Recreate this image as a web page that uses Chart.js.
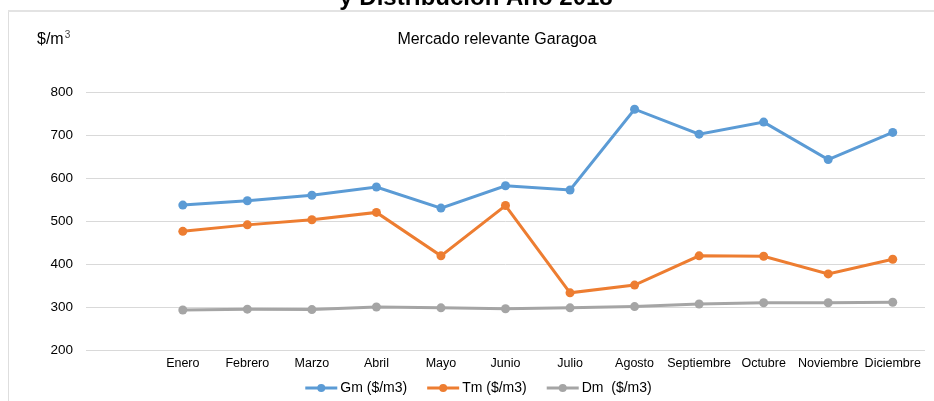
<!DOCTYPE html>
<html>
<head>
<meta charset="utf-8">
<script src="https://cdn.jsdelivr.net/npm/chart.js@4/dist/chart.umd.min.js"></script>
<style>
html,body{margin:0;padding:0;background:#fff;}
#wrap{width:934px;height:401px;position:relative;}
</style>
</head>
<body>
<div id="wrap"><canvas id="c" width="934" height="401"></canvas></div>
<script>
const categories = ['', 'Enero', 'Febrero', 'Marzo', 'Abril', 'Mayo', 'Junio', 'Julio', 'Agosto', 'Septiembre', 'Octubre', 'Noviembre', 'Diciembre'];
const gmValues = [null, 537, 547, 560, 579, 530, 582, 572, 760, 702, 730, 643, 706];
const tmValues = [null, 476, 491, 503, 520, 419, 536, 333, 351, 419, 418, 377, 411];
const dmValues = [null, 293, 295, 294, 300, 298, 296, 298, 301, 307, 310, 310, 311];
const seriesNames = ['Gm ($/m3)', 'Tm ($/m3)', 'Dm  ($/m3)'];
const yTicks = [200, 300, 400, 500, 600, 700, 800];
const titleText = 'y Distribución Año 2018';
const subtitleText = 'Mercado relevante Garagoa';
const unitText = '$/m';
const unitSup = '3';

const FONT = '"Liberation Sans", Arial, sans-serif';
const colors = ['#5B9BD5', '#ED7D31', '#A5A5A5'];

const decor = {
  id: 'decor',
  beforeDraw(chart) {
    const ctx = chart.ctx;
    ctx.save();
    ctx.fillStyle = '#fff';
    ctx.fillRect(0, 0, chart.width, chart.height);
    ctx.strokeStyle = '#dedede';
    ctx.lineWidth = 1;
    ctx.beginPath();
    ctx.moveTo(8.5, chart.height);
    ctx.lineTo(8.5, 11);
    ctx.stroke();
    ctx.lineWidth = 2;
    ctx.strokeStyle = '#e3e3e3';
    ctx.beginPath();
    ctx.moveTo(8, 11);
    ctx.lineTo(chart.width, 11);
    ctx.stroke();
    ctx.restore();
  },
  afterDraw(chart) {
    const ctx = chart.ctx;
    ctx.save();
    // clipped title
    ctx.fillStyle = '#000';
    ctx.font = 'bold 24px ' + FONT;
    ctx.textAlign = 'center';
    ctx.textBaseline = 'alphabetic';
    ctx.fillText(titleText, 476, 5);
    // subtitle
    ctx.fillStyle = '#000';
    ctx.font = '16px ' + FONT;
    ctx.textBaseline = 'middle';
    ctx.fillText(subtitleText, 497, 40);
    // unit
    ctx.textAlign = 'left';
    ctx.fillText(unitText, 37, 40);
    const w = ctx.measureText(unitText).width;
    ctx.font = '10px ' + FONT;
    ctx.fillStyle = '#444';
    ctx.fillText(unitSup, 37 + w + 1, 35);
    // legend
    ctx.font = '14px ' + FONT;
    ctx.fillStyle = '#000';
    const lineLen = 32, gapA = 3, gapB = 20;
    const widths = chart.data.datasets.map(d => ctx.measureText(d.label).width);
    let total = 0;
    widths.forEach((tw, i) => { total += lineLen + gapA + tw + (i < widths.length - 1 ? gapB : 0); });
    let x = 478.5 - total / 2;
    const y = 388;
    chart.data.datasets.forEach((d, i) => {
      ctx.strokeStyle = d.borderColor;
      ctx.lineWidth = 3;
      ctx.beginPath();
      ctx.moveTo(x, y);
      ctx.lineTo(x + lineLen, y);
      ctx.stroke();
      ctx.fillStyle = d.borderColor;
      ctx.beginPath();
      ctx.arc(x + lineLen / 2, y, 4, 0, Math.PI * 2);
      ctx.fill();
      ctx.fillStyle = '#000';
      ctx.textAlign = 'left';
      ctx.textBaseline = 'middle';
      ctx.fillText(d.label, x + lineLen + gapA, y);
      x += lineLen + gapA + widths[i] + gapB;
    });
    ctx.restore();
  }
};

const mk = (label, data, i) => ({
  label, data,
  borderColor: colors[i], backgroundColor: colors[i],
  pointBackgroundColor: colors[i], pointBorderColor: colors[i],
  borderWidth: 3, pointRadius: 4.5, pointBorderWidth: 0, pointHoverRadius: 4.5, tension: 0, spanGaps: false
});

new Chart(document.getElementById('c'), {
  type: 'line',
  data: {
    labels: categories,
    datasets: [mk(seriesNames[0], gmValues, 0), mk(seriesNames[1], tmValues, 1), mk(seriesNames[2], dmValues, 2)]
  },
  options: {
    responsive: false,
    animation: false,
    layout: { padding: { top: 92, right: 9, bottom: 0, left: 0 } },
    plugins: { legend: { display: false }, tooltip: { enabled: false }, title: { display: false } },
    scales: {
      x: {
        offset: true,
        grid: { display: false, drawTicks: false },
        border: { display: false },
        afterFit(s) { s.height = 51; },
        ticks: { color: '#000', font: { family: FONT, size: 12.5 }, padding: 6, maxRotation: 0, autoSkip: false }
      },
      y: {
        min: 200, max: 800,
        afterFit(s) { s.width = 86; },
        afterBuildTicks(s) { s.ticks = yTicks.map(v => ({ value: v })); },
        grid: { color: '#d9d9d9', lineWidth: 1, drawTicks: false },
        border: { display: false },
        ticks: { color: '#000', font: { family: FONT, size: 13.5 }, padding: 13 }
      }
    }
  },
  plugins: [decor]
});
</script>
</body>
</html>
